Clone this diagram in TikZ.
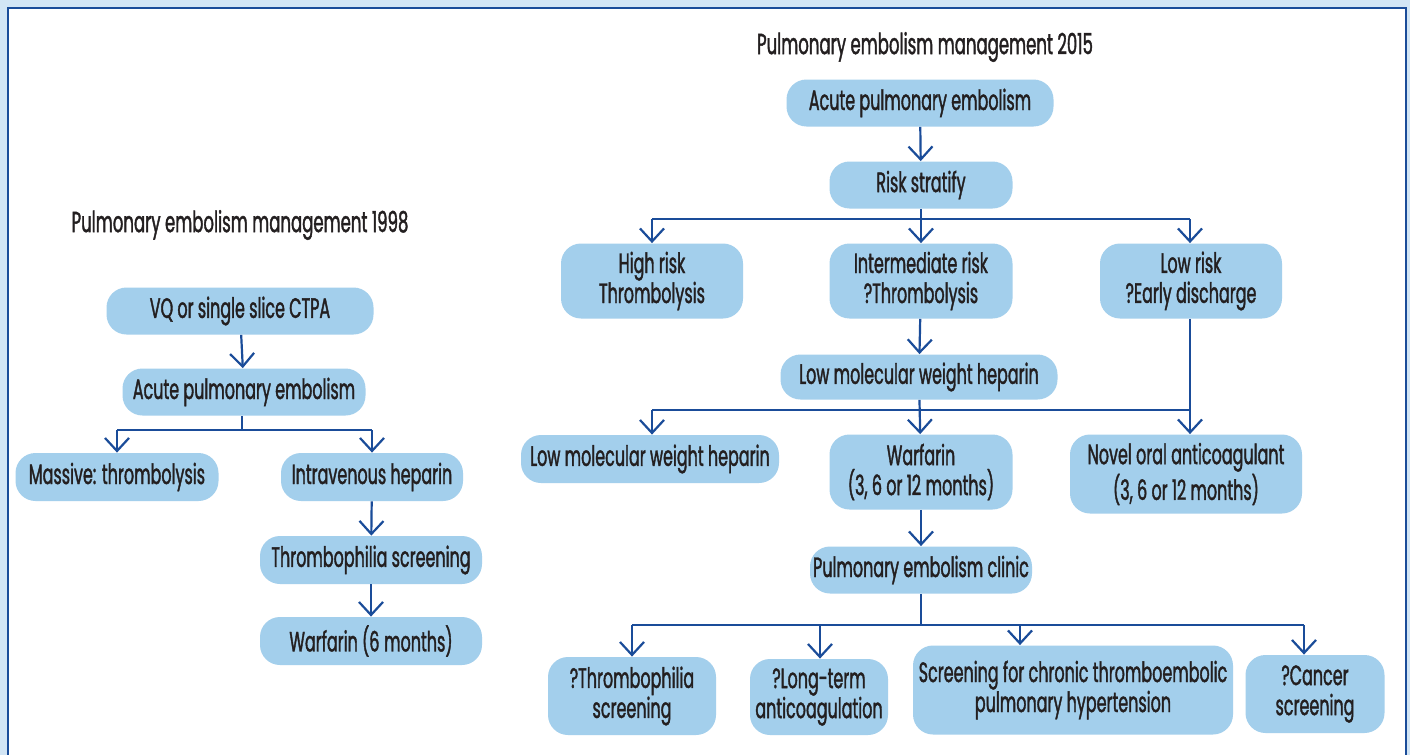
\documentclass[tikz,border=0pt]{standalone}
\usepackage{fontspec}
\setmainfont[FakeStretch=0.57, FakeBold=1.3]{Poppins}
\usetikzlibrary{arrows.meta}

\definecolor{fondo}{HTML}{D2E5F5}
\definecolor{caja}{HTML}{A3CFEC}
\definecolor{azul}{HTML}{1A4C99}
\definecolor{texto}{HTML}{231F20}

\tikzset{
  caja/.style={rounded corners=10pt, fill=caja, text=texto, align=center,
    inner sep=0pt, font=\fontsize{14}{15}\selectfont},
  titulo/.style={text=texto, font=\fontsize{14.5}{16}\selectfont},
  linea/.style={azul, line width=1.1pt},
  flecha/.style={linea, -{Straight Barb[length=6.5pt,width=12pt,line width=1.1pt]}}
}

\begin{document}
\begin{tikzpicture}[x=0.5pt, y=-0.5pt]

  % Marco
  \useasboundingbox (0,0) rectangle (1410,755);
  \fill[fondo] (0,0) rectangle (1410,755);
  \fill[white] (8,8) rectangle (1406,760);
  \draw[azul, line width=1.3pt] (8,760) -- (8,8) -- (1406,8) -- (1406,760);

  % Titulos
  \node[titulo] (t15) at (925,47) {Pulmonary embolism management 2015};
  \node[titulo] (t98) at (240,225) {Pulmonary embolism management 1998};

  % Esquema 1998
  \node[caja, minimum width=133.5pt, minimum height=23.5pt] (vq) at (240,311) {VQ or single slice CTPA};
  \node[caja, minimum width=121.5pt, minimum height=23.5pt] (acute1) at (244,392) {Acute pulmonary embolism};
  \node[caja, minimum width=101.5pt, minimum height=24pt] (massive) at (117,477) {Massive: thrombolysis};
  \node[caja, minimum width=91pt, minimum height=24pt] (iv) at (372,477) {Intravenous heparin};
  \node[caja, minimum width=111pt, minimum height=24pt] (thromb1) at (371,560) {Thrombophilia screening};
  \node[caja, minimum width=111pt, minimum height=24pt] (warf1) at (371,641) {Warfarin (6\,months)};

  \coordinate (la) at (117,430);
  \coordinate (lb) at (372,430);
  \draw[flecha] (vq) -- (acute1);
  \draw[linea] (acute1.south -| 242,0) -- (242,430);
  \draw[linea] (la) -- (lb);
  \draw[flecha] (la) -- (la |- massive.north);
  \draw[flecha] (lb) -- (lb |- iv.north);
  \draw[flecha] (iv) -- (thromb1);
  \draw[flecha] (thromb1) -- (warf1);

  % Esquema 2015
  \node[caja, minimum width=133.5pt, minimum height=23.5pt] (acute2) at (920,103) {Acute pulmonary embolism};
  \node[caja, minimum width=91.5pt, minimum height=23.5pt] (risk) at (921,185) {Risk stratify};
  \node[caja, minimum width=91pt, minimum height=37.5pt] (high) at (652,281) {High risk\\Thrombolysis};
  \node[caja, minimum width=91.5pt, minimum height=37.5pt] (inter) at (921,281) {Intermediate risk\\?Thrombolysis};
  \node[caja, minimum width=91pt, minimum height=37.5pt] (low) at (1191,281) {Low risk\\?Early discharge};
  \node[caja, minimum width=138.5pt, minimum height=22.5pt] (lmwh1) at (919,377) {Low molecular weight heparin};
  \node[caja, minimum width=129pt, minimum height=24pt] (lmwh2) at (650,459) {Low molecular weight heparin};
  \node[caja, minimum width=91.5pt, minimum height=37.5pt] (warf2) at (921,472) {Warfarin\\(3, 6 or 12\,months)};
  \node[caja, minimum width=116pt, minimum height=39.5pt] (noac) at (1186,474) {Novel oral anticoagulant\\(3, 6 or 12 months)};
  \node[caja, minimum width=111pt, minimum height=23.5pt] (clinic) at (921,570) {Pulmonary embolism clinic};
  \node[caja, minimum width=84pt, minimum height=39pt] (thromb2) at (632,696) {?Thrombophilia\\screening};
  \node[caja, minimum width=69pt, minimum height=38pt] (longterm) at (819,697) {?Long-term\\anticoagulation};
  \node[caja, minimum width=160pt, minimum height=44.5pt] (cteph) at (1073,690) {Screening for chronic thromboembolic\\pulmonary hypertension};
  \node[caja, minimum width=69.5pt, minimum height=39pt] (cancer) at (1315,694) {?Cancer\\screening};

  \coordinate (ra) at (652,219);
  \coordinate (rb) at (1190,219);
  \coordinate (sa) at (652,410);
  \coordinate (sb) at (1190,410);
  \coordinate (ua) at (632,625);
  \coordinate (ub) at (820,625);
  \coordinate (uc) at (1020,625);
  \coordinate (ud) at (1304,625);

  \draw[flecha] (acute2) -- (risk);
  \draw[linea] (ra) -- (rb);
  \draw[flecha] (risk) -- (inter);
  \draw[flecha] (ra) -- (ra |- high.north);
  \draw[flecha] (rb) -- (rb |- low.north);
  \draw[flecha] (inter) -- (lmwh1);
  \draw[linea] (sa) -- (sb);
  \draw[flecha] (lmwh1) -- (warf2);
  \draw[flecha] (sa) -- (sa |- lmwh2.north);
  \draw[flecha] (low.south -| sb) -- (sb |- noac.north);
  \draw[flecha] (warf2) -- (clinic);
  \draw[linea] (clinic.south) -- (921,625);
  \draw[linea] (ua) -- (ud);
  \draw[flecha] (ua) -- (ua |- thromb2.north);
  \draw[flecha] (ub) -- (ub |- longterm.north);
  \draw[flecha] (uc) -- (uc |- cteph.north);
  \draw[flecha] (ud) -- (ud |- cancer.north);

\end{tikzpicture}
\end{document}
